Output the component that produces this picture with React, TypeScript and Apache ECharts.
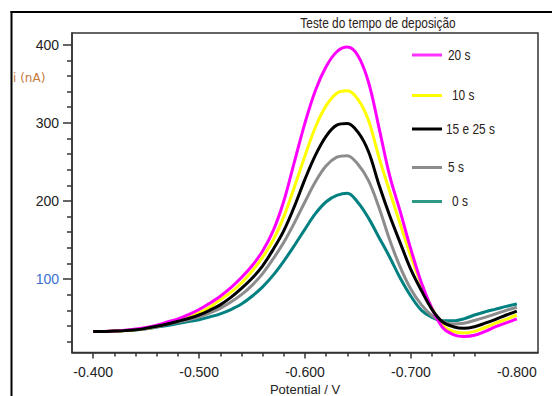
import React, { useEffect, useRef } from "react";
import * as echarts from "echarts";

// Potential (V)
const potentials = [
  -0.40, -0.41, -0.42, -0.43, -0.44, -0.45, -0.46, -0.47, -0.48, -0.49,
  -0.50, -0.51, -0.52, -0.53, -0.54, -0.55, -0.56, -0.57, -0.58, -0.59,
  -0.60, -0.61, -0.62, -0.63, -0.64, -0.65, -0.66, -0.67, -0.68, -0.69,
  -0.70, -0.71, -0.72, -0.73, -0.74, -0.75, -0.76, -0.77, -0.78, -0.79,
  -0.80,
];

// Current i (nA)
const s20 = [
  33, 33, 33.5, 34.5, 36, 38, 41, 45, 49, 54.5,
  61, 69, 78, 89, 102, 117, 136, 162, 200, 250,
  300, 342, 372, 391, 397, 386, 352, 293, 232, 186,
  138, 95, 62, 38, 29, 26.5, 28, 33, 39, 44,
  49,
];
const s10 = [
  33, 33, 33.5, 34, 35.5, 37, 40, 43.5, 47.5, 52,
  57, 64, 73.5, 83, 95, 110, 128, 150, 180, 218,
  258, 295, 322, 338, 341, 330, 303, 255, 212, 170,
  129, 93, 62, 41, 33, 31, 33, 38, 43.5, 48.5,
  54,
];
const s15e25 = [
  33, 33, 33.5, 34, 35, 37, 39.5, 42.5, 46, 49.5,
  54, 60, 67, 76.5, 88, 101, 117, 138, 162, 193,
  228, 259, 283, 297, 299, 288, 263, 220, 181, 146,
  112, 85, 61, 45, 39, 37, 39, 43.5, 48.5, 54,
  59,
];
const s5 = [
  33, 33, 33.5, 34, 35, 36.5, 39, 42, 45, 48,
  51.5, 56.5, 62.5, 70.5, 80, 92, 107, 126, 147, 172,
  199, 225, 245, 256, 258, 247, 226, 191, 150, 115,
  87, 67, 53, 45.5, 42.5, 43.5, 47, 51, 55.5, 60,
  64,
];
const s0 = [
  33, 33, 33.5, 34, 35, 36.5, 38.5, 40.5, 43, 45.5,
  48, 51.5, 55.5, 61, 68, 78, 90, 105, 123, 143,
  164, 184, 199, 207, 210, 198, 178, 153, 128, 101,
  78, 60, 51, 46.5, 46.5, 49, 54, 58, 61.5, 65,
  68,
];

const seriesNames = ["20 s", "10 s", "15 e 25 s", "5 s", "0 s"];
const seriesColors = ["#ff00ff", "#ffff00", "#000000", "#8c8c8c", "#008080"];
const legendLineColors = ["#ff33ff", "#ffff00", "#000000", "#8c8c8c", "#2e9a86"];

const xLabelValues = [-0.4, -0.5, -0.6, -0.7, -0.8];
const xMajorTicks = [-0.4, -0.5, -0.6, -0.7];
const xMinorTicks = [
  -0.42, -0.44, -0.46, -0.48, -0.52, -0.54, -0.56, -0.58,
  -0.62, -0.64, -0.66, -0.68, -0.72, -0.74, -0.76,
];
const yLabelValues = [100, 200, 300, 400];
const yMinorTicks = [
  20, 40, 60, 80, 120, 140, 160, 180, 220, 240, 260, 280, 320, 340, 360, 380,
];

const title = "Teste do tempo de deposição";
const yName = "i (nA)";
const xName = "Potential / V";

export default function App() {
  const ref = useRef<HTMLDivElement>(null);

  useEffect(() => {
    if (!ref.current) return;
    const chart = echarts.init(ref.current, undefined, { renderer: "svg" });
    const dataSets = [s20, s10, s15e25, s5, s0];
    const order = [4, 3, 1, 0, 2];
    const series = order.map((k) => ({
      name: seriesNames[k],
      type: "line",
      xAxisIndex: 0,
      yAxisIndex: 0,
      data: potentials.map((p, i) => [p, dataSets[k][i]]),
      showSymbol: false,
      smooth: 0.35,
      lineStyle: { color: seriesColors[k], width: 3 },
      itemStyle: { color: seriesColors[k] },
      z: 2,
    }));

    const legendY = [55, 95.5, 129, 167.5, 201.5];
    const legendTextX = [448, 452, 446, 448, 452];
    const graphics: any[] = [
      { type: "line", shape: { x1: 11.5, y1: 11, x2: 11.5, y2: 396 }, style: { stroke: "#000", lineWidth: 2 } },
      { type: "line", shape: { x1: 10.5, y1: 12, x2: 552, y2: 12 }, style: { stroke: "#000", lineWidth: 2 } },
      {
        type: "text", x: 378, y: 23, scaleX: 0.85,
        style: { text: title, font: "14px 'Liberation Sans'", fill: "#2a2218", align: "center", verticalAlign: "middle" },
      },
      {
        type: "text", x: 13, y: 78,
        style: { text: yName, font: "12px 'DejaVu Sans'", fill: "#c8783c", align: "left", verticalAlign: "middle" },
      },
    ];
    seriesNames.forEach((n, k) => {
      graphics.push({
        type: "line",
        shape: { x1: 412, y1: legendY[k], x2: 442, y2: legendY[k] },
        style: { stroke: legendLineColors[k], lineWidth: 3 },
      });
      graphics.push({
        type: "text", x: legendTextX[k], y: legendY[k], scaleX: 0.85,
        style: { text: n, font: "14px 'Liberation Sans'", fill: "#2a2218", align: "left", verticalAlign: "middle" },
      });
    });

    chart.setOption({
      animation: false,
      backgroundColor: "#ffffff",
      grid: {
        left: 72, right: 14, top: 33, bottom: 43.5,
        show: true, borderColor: "#333", borderWidth: 1.5,
        containLabel: false, outerBoundsMode: "none",
      },
      xAxis: [
        {
          type: "value", inverse: true, min: -0.82, max: -0.38, position: "bottom",
          name: xName, nameLocation: "middle", nameGap: 28,
          nameTextStyle: { fontFamily: "Liberation Sans", fontSize: 13, color: "#222" },
          axisLine: { show: true, onZero: false, lineStyle: { color: "#333", width: 1.5 } },
          axisTick: { show: true, customValues: xMajorTicks, length: 6, lineStyle: { color: "#333", width: 1.5 } },
          axisLabel: {
            customValues: xLabelValues, margin: 12,
            formatter: (v: number) => v.toFixed(3),
            fontFamily: "Liberation Sans", fontSize: 14, color: "#222",
          },
          splitLine: { show: false },
        },
        {
          type: "value", inverse: true, min: -0.82, max: -0.38, position: "bottom", offset: 0,
          axisLine: { show: false, onZero: false },
          axisTick: { show: true, customValues: xMinorTicks, length: 4, lineStyle: { color: "#333", width: 1.5 } },
          axisLabel: { show: false },
          splitLine: { show: false },
        },
      ],
      yAxis: [
        {
          type: "value", min: 6, max: 415, position: "left",
          axisLine: { show: true, onZero: false, lineStyle: { color: "#333", width: 1.5 } },
          axisTick: { show: true, customValues: yLabelValues, length: 9, lineStyle: { color: "#333", width: 1.5 } },
          axisLabel: {
            customValues: yLabelValues, margin: 13,
            fontFamily: "Liberation Sans", fontSize: 14,
            color: (v: any) => (Number(v) === 100 ? "#3a6fd0" : "#222"),
          },
          splitLine: { show: false },
        },
        {
          type: "value", min: 6, max: 415, position: "left", offset: 0,
          axisLine: { show: false, onZero: false },
          axisTick: { show: true, customValues: yMinorTicks, length: 5, lineStyle: { color: "#333", width: 1.5 } },
          axisLabel: { show: false },
          splitLine: { show: false },
        },
      ],
      series,
      graphic: graphics,
    });
    return () => chart.dispose();
  }, []);

  return (
    <div style={{ position: "fixed", left: 0, top: 0, width: 552, height: 396, background: "#fff" }}>
      <div ref={ref} style={{ width: 552, height: 396 }} />
    </div>
  );
}
